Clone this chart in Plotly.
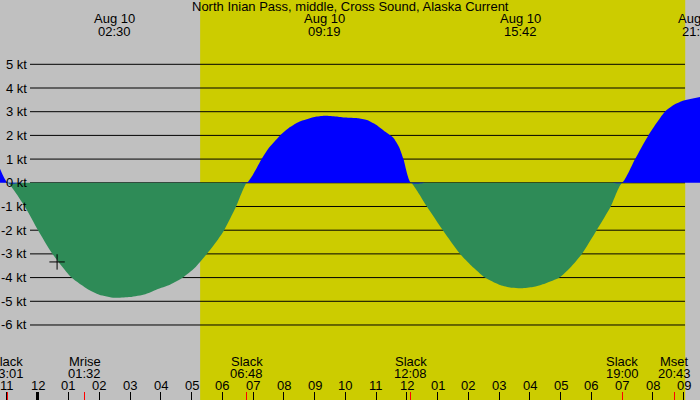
import plotly.graph_objects as go

# ---- data (hours after Aug 10 00:00, knots) ----
hours = [-1.23, -0.98, -0.42, 0.01, 0.48, 1.1, 1.64, 2.0, 2.5, 3.0, 3.5, 3.87, 4.3, 4.72,
         5.1, 5.5, 5.8, 6.06, 6.45, 6.8,
         7.0, 7.28, 7.5, 7.88, 8.2, 8.5, 9.0, 9.32, 9.7, 10.0, 10.4, 10.7, 11.0, 11.3,
         11.56, 11.75, 11.89, 12.13,
         12.65, 13.17, 13.73, 14.1, 14.54, 15.0, 15.4, 15.73, 16.1, 16.5, 16.96, 17.3,
         17.69, 18.17, 18.63, 19.0,
         19.42, 19.85, 20.39, 20.7, 21.0, 21.53]
speed = [0.6, 0.0, -1.0, -2.0, -3.0, -4.0, -4.5, -4.72, -4.85, -4.82, -4.7, -4.5, -4.3, -4.0,
         -3.6, -3.0, -2.5, -2.0, -1.0, 0.0,
         0.35, 1.0, 1.45, 2.0, 2.35, 2.58, 2.78, 2.83, 2.8, 2.75, 2.72, 2.65, 2.45, 2.15,
         1.9, 1.5, 1.0, 0.0,
         -1.0, -2.0, -3.0, -3.5, -4.0, -4.3, -4.43, -4.45, -4.4, -4.25, -4.0, -3.6,
         -3.0, -2.0, -1.0, 0.0,
         1.0, 2.0, 3.0, 3.3, 3.47, 3.62]

title = "North Inian Pass, middle, Cross Sound, Alaska Current"

peak_hours = [2.5, 9.317, 15.7, 21.47]
peak_dates = ["Aug 10", "Aug 10", "Aug 10", "Aug 10"]
peak_times = ["02:30", "09:19", "15:42", "21:28"]

event_hours = [-0.983, 1.533, 6.8, 12.133, 19.0, 20.717]
event_names = ["Slack", "Mrise", "Slack", "Slack", "Slack", "Mset"]
event_times = ["23:01", "01:32", "06:48", "12:08", "19:00", "20:43"]

hour_ticks = list(range(-1, 22))
hour_labels = ["11", "12", "01", "02", "03", "04", "05", "06", "07", "08", "09", "10",
               "11", "12", "01", "02", "03", "04", "05", "06", "07", "08", "09"]

kt_ticks = [5, 4, 3, 2, 1, 0, -1, -2, -3, -4, -5, -6]
kt_labels = ["5 kt", "4 kt", "3 kt", "2 kt", "1 kt", "0 kt", "-1 kt", "-2 kt", "-3 kt",
             "-4 kt", "-5 kt", "-6 kt"]

sunrise, sunset = 5.28, 21.05
now_hour, now_speed = 0.63, -3.34

X_RANGE = [-1.226, 21.53]
Y_RANGE = [-9.165, 7.713]
W, H = 700, 400
FONT = "Liberation Sans, Arial, sans-serif"
FS = 13

pos = [max(v, 0) for v in speed]
neg = [min(v, 0) for v in speed]

fig = go.Figure()
fig.add_trace(go.Scatter(x=hours, y=neg, mode="lines",
                         line=dict(width=0, color="#2e8b57", shape="spline", smoothing=0.6),
                         fill="tozeroy", fillcolor="#2e8b57", hoverinfo="skip", showlegend=False))
fig.add_trace(go.Scatter(x=hours, y=pos, mode="lines",
                         line=dict(width=0, color="#0000ff", shape="spline", smoothing=0.6),
                         fill="tozeroy", fillcolor="#0000ff", hoverinfo="skip", showlegend=False))
fig.add_trace(go.Scatter(x=[now_hour], y=[now_speed], mode="markers",
                         marker=dict(symbol="cross-thin", size=11, line=dict(width=1, color="black")),
                         hoverinfo="skip", showlegend=False))
# helper traces so overlay axes get drawn
fig.add_trace(go.Scatter(x=[None], y=[None], xaxis="x2", showlegend=False, hoverinfo="skip"))
fig.add_trace(go.Scatter(x=[None], y=[None], xaxis="x3", showlegend=False, hoverinfo="skip"))

shapes = [dict(type="rect", xref="x", yref="paper", x0=sunrise, x1=sunset, y0=0, y1=1,
               fillcolor="#cccc00", line=dict(width=0), layer="below")]
for v in kt_ticks:
    shapes.append(dict(type="line", xref="paper", yref="y", x0=30 / W, x1=685 / W, y0=v, y1=v,
                       line=dict(color="black", width=1), layer="below"))


def txt(text, x, y, xref="x", yref="paper", xanchor="center"):
    return dict(text=text, x=x, y=y, xref=xref, yref=yref, showarrow=False,
                xanchor=xanchor, yanchor="middle",
                font=dict(size=FS, color="black", family=FONT))


ann = [txt(title, 0.5, 1 - 7 / H, xref="paper")]
for h, d, t in zip(peak_hours, peak_dates, peak_times):
    ann.append(txt(d, h, 1 - 19 / H))
    ann.append(txt(t, h, 1 - 31 / H))
for h, n, t in zip(event_hours, event_names, event_times):
    ann.append(txt(n, h, 1 - 361 / H))
    ann.append(txt(t, h, 1 - 373 / H))
for h, lab in zip(hour_ticks, hour_labels):
    ann.append(txt(lab, h, 1 - 385 / H))
for v, lab in zip(kt_ticks, kt_labels):
    ann.append(txt(lab, 29 / W, v, xref="paper", yref="y", xanchor="right"))

fig.update_layout(
    width=W, height=H, margin=dict(l=0, r=0, t=0, b=0),
    paper_bgcolor="#c0c0c0", plot_bgcolor="#c0c0c0",
    showlegend=False, shapes=shapes, annotations=ann,
    xaxis=dict(range=X_RANGE, showgrid=False, zeroline=False, showline=False,
               ticks="inside", ticklen=8, tickwidth=1, tickcolor="black",
               tickmode="array", tickvals=hour_ticks, showticklabels=False, fixedrange=True),
    xaxis2=dict(range=X_RANGE, overlaying="x", anchor="y", side="bottom", showgrid=False,
                zeroline=False, showline=False, ticks="inside", ticklen=8, tickwidth=1,
                tickcolor="red", tickmode="array", tickvals=event_hours, showticklabels=False),
    xaxis3=dict(range=X_RANGE, overlaying="x", anchor="y", side="bottom", showgrid=False,
                zeroline=False, showline=False, ticks="inside", ticklen=8, tickwidth=3,
                tickcolor="black", tickmode="array", tickvals=[0], showticklabels=False),
    yaxis=dict(range=Y_RANGE, showgrid=False, zeroline=False, showline=False,
               showticklabels=False, ticks="", fixedrange=True),
)

fig.write_html("out.html", config={"displayModeBar": False},
               post_script="document.body.style.margin='0';document.body.style.overflow='hidden';")
